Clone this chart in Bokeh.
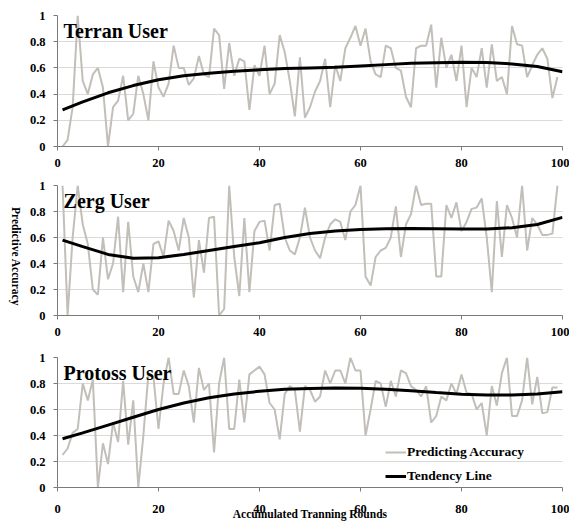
import math
from bokeh.plotting import figure
from bokeh.layouts import column, row
from bokeh.models import Range1d, FixedTicker, NumeralTickFormatter, Label, Legend, LegendItem
from bokeh.embed import file_html
from bokeh.resources import INLINE

rounds = list(range(1, 100))
terran = [0.0, 0.05, 0.3, 1.0, 0.5, 0.4, 0.55, 0.6, 0.45, 0.0,
          0.3, 0.35, 0.54, 0.2, 0.25, 0.54, 0.4, 0.2, 0.65, 0.45,
          0.38, 0.48, 0.77, 0.6, 0.6, 0.47, 0.52, 0.69, 0.55, 0.53,
          0.9, 0.85, 0.44, 0.79, 0.54, 0.67, 0.65, 0.28, 0.62, 0.54,
          0.77, 0.4, 0.48, 0.85, 0.72, 0.5, 0.23, 0.68, 0.22, 0.3,
          0.42, 0.5, 0.67, 0.3, 0.62, 0.5, 0.75, 0.83, 0.92, 0.77,
          0.9, 0.65, 0.55, 0.53, 0.77, 0.75, 0.6, 0.58, 0.38, 0.3,
          0.75, 0.77, 0.77, 0.93, 0.45, 0.83, 0.6, 0.7, 0.5, 0.77,
          0.3, 0.6, 0.53, 0.75, 0.45, 0.78, 0.5, 0.53, 0.4, 0.92,
          0.78, 0.77, 0.53, 0.62, 0.7, 0.75, 0.67, 0.37, 0.53]
zerg = [1.0, 0.0, 0.6, 1.0, 0.7, 0.55, 0.2, 0.16, 0.6, 0.28,
        0.4, 0.76, 0.18, 0.72, 0.3, 0.18, 0.4, 0.18, 0.55, 0.57,
        0.45, 0.73, 0.65, 0.5, 0.75, 0.6, 0.14, 0.58, 0.33, 0.75,
        0.76, 0.0, 0.05, 1.0, 0.45, 0.15, 0.75, 0.18, 0.65, 0.72,
        0.73, 0.5, 0.85, 0.86, 0.6, 0.5, 0.47, 0.6, 0.83, 0.6,
        0.5, 0.44, 0.6, 0.7, 0.74, 0.72, 0.58, 0.8, 0.85, 1.0,
        0.3, 0.23, 0.45, 0.5, 0.52, 0.6, 0.84, 0.45, 0.7, 0.78,
        1.0, 0.85, 0.86, 0.86, 0.3, 0.3, 0.85, 0.75, 0.87, 0.65,
        0.72, 0.82, 0.83, 0.9, 0.6, 0.18, 0.88, 0.45, 0.85, 0.75,
        0.6, 1.0, 0.5, 0.75, 0.7, 0.62, 0.62, 0.63, 1.0]
protoss = [0.25, 0.3, 0.42, 0.45, 0.8, 0.67, 0.83, 0.0, 0.34, 0.18,
           0.5, 0.35, 0.82, 0.33, 0.67, 0.0, 0.4, 0.87, 0.85, 0.45,
           0.8, 1.0, 0.72, 0.72, 0.9, 0.78, 0.5, 0.92, 0.75, 0.8,
           0.27, 0.8, 1.0, 0.45, 0.45, 0.83, 0.5, 0.87, 0.9, 0.93,
           0.87, 0.65, 0.6, 0.37, 0.72, 0.78, 0.75, 0.43, 0.78, 0.75,
           0.66, 0.7, 0.9, 0.8, 0.9, 0.9, 0.8, 1.0, 0.9, 0.9,
           0.4, 0.6, 0.82, 0.8, 0.62, 0.82, 0.7, 0.9, 0.88, 0.78,
           0.75, 0.7, 0.78, 0.5, 0.55, 0.7, 0.67, 0.8, 0.72, 0.87,
           0.73, 0.72, 0.6, 0.65, 0.4, 0.78, 0.63, 0.88, 1.0, 0.55,
           0.55, 0.67, 1.0, 0.64, 0.85, 0.57, 0.58, 0.77, 0.77]

trend_x = [1, 5, 10, 15, 20, 25, 30, 35, 40, 45, 50, 55, 60, 65, 70, 75, 80, 85, 90, 95, 100]
terran_trend = [0.28, 0.34, 0.41, 0.465, 0.51, 0.54, 0.56, 0.575, 0.585, 0.595, 0.60,
                0.605, 0.615, 0.625, 0.635, 0.64, 0.643, 0.642, 0.63, 0.61, 0.57]
zerg_trend = [0.58, 0.53, 0.47, 0.44, 0.445, 0.47, 0.50, 0.53, 0.56, 0.60, 0.63,
              0.65, 0.662, 0.668, 0.67, 0.668, 0.665, 0.665, 0.675, 0.70, 0.755]
protoss_trend = [0.375, 0.42, 0.48, 0.54, 0.60, 0.65, 0.69, 0.72, 0.74, 0.755, 0.762,
                 0.766, 0.764, 0.756, 0.745, 0.73, 0.718, 0.712, 0.712, 0.72, 0.737]

titles = ["Terran User", "Zerg User", "Protoss User"]
x_ticks = [0, 20, 40, 60, 80, 100]
y_ticks = [0, 0.2, 0.4, 0.6, 0.8, 1]
y_title = "Predictive Accuracy"
x_title = "Accumulated Tranning Rounds"

FONT = "'Liberation Serif'"
GRAY = "#c2beb8"
AXIS = "#7a7a7a"
LEFT_W = 26

series = [terran, zerg, protoss]
trends = [terran_trend, zerg_trend, protoss_trend]
borders = [(15, 131, 30), (9, 130, 29), (13, 130, 35)]

# narrow strip holding the rotated y-axis title
side = figure(width=LEFT_W, height=522, output_backend="svg", toolbar_location=None,
              x_range=Range1d(0, LEFT_W), y_range=Range1d(0, 522),
              min_border_left=0, min_border_right=0, min_border_top=0, min_border_bottom=0)
side.axis.visible = False
side.grid.visible = False
side.outline_line_color = None
side.border_fill_color = "white"
side.background_fill_color = "white"
side.add_layout(Label(x=15.5, y=266, text=y_title, angle=-math.pi / 2,
                      text_font=FONT, text_font_style="bold", text_font_size="11.5px",
                      text_align="center", text_baseline="middle", text_color="black"))

figs = []
for i in range(3):
    top, fh, bottom = borders[i]
    p = figure(width=569 - LEFT_W, height=top + fh + bottom, output_backend="svg", toolbar_location=None,
               x_range=Range1d(0, 100), y_range=Range1d(0, 1),
               min_border_left=57 - LEFT_W, min_border_right=7,
               min_border_top=top, min_border_bottom=bottom)
    p.outline_line_color = None
    p.background_fill_color = "white"
    p.border_fill_color = "white"
    p.xgrid.grid_line_color = None
    p.ygrid.ticker = FixedTicker(ticks=y_ticks)
    p.ygrid.grid_line_color = "#b5b5b5"
    p.ygrid.grid_line_dash = "1 1"
    p.axis.axis_line_color = AXIS
    p.axis.major_tick_line_color = AXIS
    p.axis.major_tick_out = 4
    p.axis.major_tick_in = 0
    p.axis.minor_tick_line_color = None
    p.axis.major_label_text_font = FONT
    p.axis.major_label_text_font_style = "bold"
    p.axis.major_label_text_font_size = "12.5px"
    p.axis.major_label_text_color = "black"
    p.xaxis.ticker = FixedTicker(ticks=x_ticks)
    p.yaxis.ticker = FixedTicker(ticks=y_ticks)
    p.yaxis.formatter = NumeralTickFormatter(format="0.[0]")
    p.yaxis.major_label_standoff = 8
    p.xaxis.major_label_standoff = 8 if i < 2 else 13

    r_acc = p.line(rounds, series[i], line_color=GRAY, line_width=2)
    r_tr = p.line(trend_x, trends[i], line_color="black", line_width=3)

    p.add_layout(Label(x=1.2, y=0.88, text=titles[i], text_font=FONT, text_font_style="bold",
                       text_font_size="20px", text_baseline="middle", text_align="left",
                       text_color="black"))
    if i == 2:
        xa = p.xaxis[0]
        xa.axis_label = x_title
        xa.axis_label_text_font = FONT
        xa.axis_label_text_font_style = "bold"
        xa.axis_label_text_font_size = "11.5px"
        xa.axis_label_text_color = "black"
        xa.axis_label_standoff = -8
        legend = Legend(items=[LegendItem(label="Predicting Accuracy", renderers=[r_acc]),
                               LegendItem(label="Tendency Line", renderers=[r_tr])],
                        location=(328, 1), orientation="vertical")
        legend.glyph_width = 21
        legend.glyph_height = 20
        legend.label_height = 20
        legend.label_standoff = 1
        legend.spacing = 4
        legend.padding = 0
        legend.margin = 0
        legend.border_line_color = None
        legend.background_fill_alpha = 0
        legend.label_text_font = FONT
        legend.label_text_font_style = "bold"
        legend.label_text_font_size = "13.5px"
        legend.label_text_color = "black"
        p.add_layout(legend, "center")
    figs.append(p)

layout = row(side, column(*figs, spacing=0), spacing=0)
open("out.html", "w").write(file_html(layout, INLINE))
